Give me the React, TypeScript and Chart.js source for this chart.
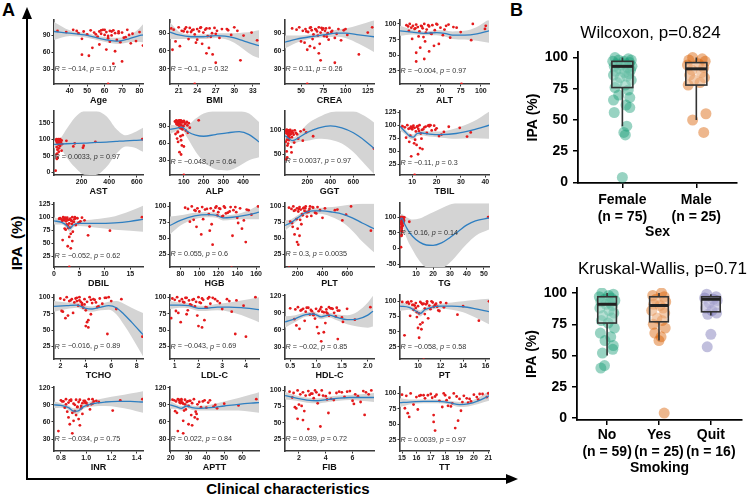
import React, { useEffect, useRef } from 'react';
import { Chart, registerables } from 'chart.js';

Chart.register(...registerables);

const FONT = 'Arial, "Liberation Sans", Helvetica, sans-serif';
Chart.defaults.font.family = FONT;

// ---------- Panel A data (IPA vs clinical characteristics) ----------
const ipa = [98, 96, 100, 94, 97, 92, 99, 95, 88, 97, 93, 100, 91, 96, 85, 98, 90, 99, 94, 82, 97, 78, 95, 87, 100, 76, 93, 80, 96, 72, 98, 84, 68, 92, 99, 65, 89, 97, 62, 94, 56, 86, 100, 54, 79, 44, 91, 40, 74, 4];

const age = [33, 38, 42, 45, 48, 50, 52, 54, 56, 57, 58, 59, 60, 61, 62, 63, 64, 65, 66, 67, 68, 69, 70, 72, 73, 75, 76, 78, 80, 82, 44, 47, 53, 55, 58, 61, 62, 64, 66, 68, 47, 71, 60, 51, 63, 70, 74, 65, 57, 62];
const bmi = [19.8, 20.2, 21.0, 21.5, 22.0, 22.4, 22.8, 23.2, 23.6, 24.0, 24.3, 24.6, 25.0, 25.3, 25.7, 26.0, 26.4, 26.8, 27.2, 27.6, 28.0, 33.7, 29.0, 29.5, 30.0, 20.5, 21.8, 22.6, 23.4, 24.8, 25.5, 26.2, 21.2, 23.0, 24.5, 25.9, 27.0, 28.8, 20.0, 30.5, 25.5, 31.5, 22.2, 26.5, 24.0, 31.0, 32.8, 27.0, 23.8, 23.6];
const crea = [40, 45, 48, 52, 55, 58, 60, 62, 64, 66, 68, 70, 72, 74, 76, 78, 80, 82, 85, 88, 92, 95, 98, 102, 130, 50, 56, 63, 67, 71, 75, 79, 60, 84, 73, 65, 90, 100, 57, 77, 70, 69, 61, 115, 81, 72, 125, 88, 54, 57];
const alt = [8, 10, 12, 14, 16, 18, 20, 22, 24, 26, 28, 30, 33, 36, 38, 40, 43, 46, 50, 53, 57, 62, 66, 75, 90, 15, 19, 23, 27, 31, 35, 39, 48, 105, 60, 42, 11, 106, 25, 70, 36, 32, 45, 20, 29, 30, 55, 20, 88, 76];
const ast = [15, 18, 20, 22, 25, 28, 30, 32, 35, 38, 40, 45, 50, 55, 60, 18, 22, 26, 30, 34, 38, 140, 90, 150, 640, 20, 24, 215, 32, 36, 40, 48, 25, 300, 20, 55, 30, 27, 35, 22, 23, 28, 33, 19, 44, 26, 31, 21, 210, 12];
const alp = [55, 60, 62, 65, 68, 70, 72, 75, 78, 80, 82, 85, 88, 90, 92, 95, 98, 100, 105, 110, 115, 120, 125, 130, 175, 58, 64, 70, 76, 83, 87, 93, 66, 74, 79, 86, 96, 102, 71, 108, 90, 84, 77, 100, 69, 78, 118, 86, 94, 100];
const ggt = [15, 18, 20, 22, 25, 28, 30, 33, 36, 40, 45, 50, 55, 60, 65, 70, 80, 90, 100, 120, 140, 160, 190, 250, 170, 12, 17, 23, 27, 32, 38, 44, 26, 48, 35, 58, 42, 29, 780, 75, 20, 31, 21, 62, 37, 24, 110, 16, 85, 14];
const tbil = [6, 7, 8, 9, 9.5, 10, 10.5, 11, 11.5, 12, 12.5, 13, 14, 15, 16, 17, 18, 19, 20, 22, 25, 32.5, 29.5, 23, 17, 7.5, 8.5, 9.2, 10.2, 11.2, 12.2, 13.5, 8.8, 14.5, 16.5, 10.8, 12.8, 15.5, 11.8, 9.8, 13.2, 34, 17.5, 14.2, 21, 12.4, 19.5, 9.6, 13.8, 11];
const dbil = [1.2, 1.5, 1.8, 2.0, 2.2, 2.4, 2.6, 2.8, 3.0, 3.2, 3.4, 3.6, 3.8, 4.0, 4.3, 4.6, 5.0, 5.5, 6.0, 7.0, 1.0, 2.1, 2.9, 3.5, 17.3, 2.3, 1.6, 3.1, 2.5, 3.7, 4.2, 2.7, 3.3, 5.2, 2.2, 6.7, 4.8, 1.9, 3.0, 3.4, 1.7, 2.5, 4.1, 3.6, 2.8, 2.7, 3.9, 3.3, 11.0, 3.0];
const hgb = [85, 88, 92, 95, 98, 100, 103, 106, 110, 112, 115, 118, 120, 122, 125, 127, 130, 133, 136, 140, 143, 147, 150, 155, 162, 90, 96, 104, 108, 113, 117, 124, 97, 132, 138, 145, 128, 121, 111, 152, 102, 119, 126, 135, 94, 149, 139, 114, 141, 134];
const plt = [130, 150, 165, 180, 195, 205, 215, 225, 235, 245, 255, 265, 280, 295, 310, 325, 340, 360, 380, 400, 420, 560, 520, 590, 630, 140, 170, 190, 210, 230, 250, 275, 160, 290, 320, 200, 350, 260, 790, 500, 175, 240, 300, 215, 220, 195, 270, 205, 155, 130];
const tg = [0.8, 0.9, 1.0, 1.1, 1.2, 1.3, 1.4, 1.5, 1.6, 1.7, 1.8, 1.9, 2.0, 2.2, 6.0, 2.6, 2.8, 3.0, 1.05, 1.15, 1.25, 1.35, 1.45, 1.55, 52.5, 1.65, 1.75, 1.85, 0.95, 2.1, 2.3, 2.5, 1.3, 1.4, 1.2, 1.6, 1.1, 1.9, 1.5, 1.0, 1.3, 2.7, 1.45, 1.8, 1.2, 1.55, 0.9, 1.35, 1.7, 1.1];
const tcho = [2.0, 2.3, 2.5, 2.7, 2.9, 3.1, 3.3, 3.5, 3.7, 3.9, 4.1, 4.3, 4.5, 4.7, 4.9, 5.1, 5.3, 5.6, 6.0, 6.4, 6.8, 2.2, 2.8, 3.4, 5.8, 3.0, 3.6, 4.0, 4.4, 2.6, 3.2, 3.8, 2.4, 4.8, 5.5, 4.2, 3.9, 4.6, 4.1, 3.3, 4.0, 5.0, 3.5, 4.2, 2.1, 5.7, 3.7, 8.45, 4.4, 4.3];
const ldl = [0.9, 1.0, 1.1, 1.2, 1.3, 1.4, 1.5, 1.6, 1.7, 1.8, 1.9, 2.0, 2.1, 2.2, 2.3, 2.4, 2.5, 2.6, 2.8, 3.0, 3.2, 3.4, 3.6, 3.9, 4.4, 1.15, 1.35, 1.55, 1.75, 1.95, 2.15, 2.35, 0.85, 2.05, 1.45, 2.25, 1.65, 2.7, 1.25, 3.3, 2.0, 1.85, 2.45, 2.15, 1.05, 3.55, 2.9, 4.0, 1.5, 2.6];
const hdl = [0.5, 0.6, 0.65, 0.7, 0.75, 0.8, 0.85, 0.9, 0.95, 1.0, 1.05, 1.1, 1.15, 1.2, 1.25, 1.3, 1.35, 1.4, 1.45, 1.5, 1.6, 1.75, 0.72, 0.88, 2.05, 0.78, 0.92, 0.98, 1.08, 1.18, 1.28, 1.38, 0.62, 1.12, 0.82, 1.02, 1.22, 1.32, 0.68, 1.42, 1.15, 0.95, 1.25, 1.05, 0.58, 1.42, 1.2, 1.1, 1.52, 1.0];
const pt = [9.0, 9.2, 9.4, 9.6, 9.8, 10.0, 10.2, 10.4, 10.6, 10.8, 11.0, 11.2, 11.4, 11.6, 11.8, 12.0, 12.3, 9.1, 9.5, 9.9, 10.3, 13.5, 10.7, 11.1, 16.3, 9.3, 9.7, 10.1, 10.5, 10.9, 11.3, 11.9, 15.4, 14.0, 8.6, 10.4, 9.8, 12.5, 10.2, 11.5, 10.0, 9.6, 10.8, 10.3, 10.6, 8.8, 11.7, 10.1, 9.9, 10.5];
const inr = [0.80, 0.82, 0.84, 0.86, 0.88, 0.90, 0.92, 0.94, 0.96, 0.98, 1.00, 1.02, 1.04, 1.06, 0.83, 0.87, 0.91, 0.95, 0.99, 1.03, 1.08, 0.85, 1.10, 0.93, 1.445, 0.89, 0.97, 1.21, 0.81, 0.92, 1.27, 0.96, 0.86, 1.05, 0.88, 0.94, 1.01, 0.99, 0.90, 1.00, 0.87, 0.93, 1.05, 0.95, 0.91, 0.78, 0.84, 0.89, 0.97, 0.92];
const aptt = [22, 23, 24, 25, 26, 27, 28, 29, 30, 31, 32, 33, 35, 38, 40, 42, 45, 24.5, 26.5, 28.5, 30.5, 34, 36, 44, 68, 23.5, 25.5, 27.5, 29.5, 31.5, 39, 46, 33.5, 50, 21, 35, 58, 25, 27, 41, 30, 37, 26, 32, 22.5, 24, 28, 27, 34.5, 29];
const fib = [1.3, 1.6, 1.9, 2.1, 2.3, 2.5, 2.7, 2.9, 3.1, 3.3, 3.5, 3.7, 4.0, 4.3, 4.6, 5.0, 5.4, 5.8, 6.2, 6.6, 7.0, 2.0, 3.0, 4.4, 7.4, 2.2, 2.8, 3.4, 4.8, 1.8, 5.6, 6.0, 2.4, 3.8, 6.8, 4.2, 1.5, 5.2, 6.9, 7.2, 1.9, 4.1, 3.2, 2.3, 6.1, 3.6, 6.4, 2.7, 1.7, 2.9];
const tt = [15.0, 15.3, 15.6, 16.0, 16.3, 16.6, 17.0, 17.3, 17.6, 18.0, 18.3, 18.6, 19.0, 19.3, 19.6, 20.0, 20.3, 20.6, 20.9, 15.8, 16.8, 17.8, 18.8, 19.8, 21.0, 15.2, 17.1, 18.2, 16.2, 19.1, 17.4, 18.5, 15.4, 19.5, 20.4, 17.2, 18.1, 16.5, 15.5, 20.2, 18.9, 19.2, 17.9, 17.2, 18.4, 18.7, 19.7, 17.3, 16.1, 19.3];

// LOESS fits: [x, fit, lower CI, upper CI]
const ageFit = [[31, 97, 82, 114], [40, 94, 89, 99], [50, 90, 86, 94], [58, 84, 80, 88], [64, 81, 76, 86], [68, 80, 75, 86], [74, 84, 78, 90], [79, 89, 79, 100], [82, 91, 78, 110]];
const bmiFit = [[19.6, 92, 80, 108], [21, 87, 80, 93], [23, 84, 80, 88], [25, 84, 80, 88], [27, 86, 82, 90], [28.5, 85, 80, 90], [30, 82, 74, 90], [31.5, 77, 63, 91], [33, 72, 52, 93], [34, 69, 48, 95]];
const creaFit = [[32, 75, 64, 86], [45, 80, 74, 86], [60, 84, 80, 88], [75, 87, 83, 91], [90, 90, 84, 96], [100, 90, 82, 98], [115, 87, 72, 104], [132, 84, 58, 112]];
const altFit = [[0, 89, 81, 97], [15, 87, 83, 91], [30, 85, 82, 88], [45, 86, 82, 90], [55, 85, 80, 90], [65, 82, 76, 88], [80, 82, 75, 89], [95, 84, 73, 95], [110, 89, 70, 108]];
const astFit = [[0, 84, 72, 96], [40, 85, 72, 100], [90, 86, 45, 130], [150, 87, 15, 165], [220, 88, -8, 186], [300, 90, -9, 186], [380, 91, 15, 170], [450, 93, 55, 132], [520, 95, 78, 112], [580, 96, 75, 120], [645, 98, 62, 135]];
const alpFit = [[30, 84, 76, 92], [60, 86, 81, 91], [90, 88, 83, 93], [120, 80, 68, 92], [160, 74, 45, 103], [200, 72, 28, 112], [260, 75, 14, 116], [320, 78, 12, 116], [380, 80, 20, 116], [430, 75, 30, 112], [480, 62, 35, 97]];
const ggtFit = [[5, 88, 78, 98], [30, 84, 78, 90], [70, 78, 72, 84], [130, 85, 76, 94], [200, 95, 78, 112], [300, 104, 82, 126], [400, 108, 80, 136], [500, 104, 72, 138], [600, 94, 55, 138], [700, 78, 30, 128], [780, 62, 10, 115]];
const tbilFit = [[5, 98, 90, 106], [7, 88, 83, 93], [9, 79, 74, 84], [10.5, 77, 72, 82], [12, 84, 79, 89], [14, 85, 80, 90], [17, 83, 78, 88], [22, 82, 76, 88], [28, 84, 74, 94], [35, 91, 75, 107], [41.5, 100, 74, 126]];
const dbilFit = [[0, 93, 86, 100], [1.5, 90, 86, 94], [2.5, 84, 79, 89], [3.1, 78, 72, 85], [3.8, 85, 80, 90], [5, 88, 83, 93], [8, 88, 80, 96], [12, 89, 76, 102], [15, 92, 74, 112], [17.5, 96, 72, 122]];
const hgbFit = [[69, 70, 56, 84], [80, 78, 70, 86], [95, 85, 80, 90], [110, 87, 83, 91], [118, 86, 82, 90], [125, 82, 78, 86], [135, 83, 79, 87], [145, 85, 80, 90], [155, 88, 80, 96], [163, 91, 80, 102]];
const pltFit = [[98, 70, 62, 78], [150, 75, 70, 80], [200, 82, 78, 86], [260, 90, 86, 94], [320, 93, 89, 97], [400, 93, 88, 98], [480, 91, 83, 99], [560, 88, 75, 101], [640, 82, 62, 103], [720, 74, 45, 104], [815, 65, 28, 104]];
const tgFit = [[0.5, 90, 70, 110], [1.5, 97, 85, 110], [3, 80, 55, 105], [5, 60, 25, 98], [8, 38, -5, 92], [12, 20, -40, 95], [16, 11, -60, 105], [20, 10, -62, 115], [25, 18, -62, 128], [30, 35, -45, 140], [35, 55, -15, 146], [40, 75, 15, 146], [45, 88, 40, 146], [53, 97, 60, 146]];
const tchoFit = [[1.5, 86, 78, 94], [2.5, 87, 82, 92], [3.3, 88, 84, 92], [4, 83, 79, 87], [4.5, 82, 78, 86], [5.2, 85, 80, 90], [5.8, 87, 81, 93], [6.4, 84, 74, 94], [7, 74, 58, 90], [7.6, 62, 40, 84], [8.5, 43, 10, 76]];
const ldlFit = [[0.8, 88, 82, 94], [1.2, 88, 84, 92], [1.6, 87, 83, 91], [2.0, 83, 79, 87], [2.3, 83, 79, 87], [2.8, 85, 80, 90], [3.3, 85, 78, 92], [3.8, 84, 73, 95], [4.55, 81, 62, 100]];
const hdlFit = [[0.4, 74, 64, 84], [0.6, 80, 74, 86], [0.8, 87, 83, 91], [0.95, 88, 84, 92], [1.1, 83, 79, 87], [1.25, 86, 82, 90], [1.4, 82, 77, 87], [1.6, 78, 70, 86], [1.8, 79, 66, 92], [2.0, 86, 64, 108], [2.1, 93, 66, 120]];
const ptFit = [[8.4, 92, 84, 100], [9.2, 90, 86, 94], [9.8, 84, 80, 88], [10.2, 80, 75, 85], [10.6, 86, 82, 90], [11.2, 90, 86, 94], [12, 92, 88, 96], [13, 92, 86, 98], [14, 91, 82, 100], [15, 88, 74, 102], [16.3, 83, 62, 104]];
const inrFit = [[0.745, 90, 84, 96], [0.8, 89, 85, 93], [0.86, 85, 81, 89], [0.9, 79, 74, 84], [0.93, 79, 74, 84], [0.98, 87, 83, 91], [1.05, 92, 87, 97], [1.15, 95, 88, 102], [1.25, 96, 86, 106], [1.35, 96, 82, 110], [1.45, 95, 76, 114]];
const apttFit = [[19.6, 90, 83, 97], [23, 87, 83, 91], [26, 84, 80, 88], [29, 88, 84, 92], [32, 85, 81, 89], [36, 84, 80, 88], [42, 85, 80, 90], [50, 88, 80, 96], [58, 91, 80, 102], [65, 93, 78, 108], [69.5, 94, 76, 112]];
const fibFit = [[0.96, 92, 86, 98], [1.8, 88, 84, 92], [2.6, 85, 81, 89], [3.4, 84, 80, 88], [4.2, 86, 82, 90], [5, 88, 84, 92], [5.8, 89, 85, 93], [6.6, 89, 84, 94], [7.6, 89, 82, 96]];
const ttFit = [[14.86, 85, 78, 92], [15.5, 86, 82, 90], [16.5, 87, 84, 90], [17.5, 87, 84, 90], [18.3, 85, 82, 88], [19, 82, 78, 86], [19.6, 83, 79, 87], [20.3, 88, 83, 93], [21.05, 96, 88, 104]];

const variableNames = ['Age', 'BMI', 'CREA', 'ALT', 'AST', 'ALP', 'GGT', 'TBIL', 'DBIL', 'HGB', 'PLT', 'TG', 'TCHO', 'LDL-C', 'HDL-C', 'PT', 'INR', 'APTT', 'FIB', 'TT'];
const xValues = [age, bmi, crea, alt, ast, alp, ggt, tbil, dbil, hgb, plt, tg, tcho, ldl, hdl, pt, inr, aptt, fib, tt];
const fits = [ageFit, bmiFit, creaFit, altFit, astFit, alpFit, ggtFit, tbilFit, dbilFit, hgbFit, pltFit, tgFit, tchoFit, ldlFit, hdlFit, ptFit, inrFit, apttFit, fibFit, ttFit];
const corrR = ['\u22120.14', '\u22120.1', '0.11', '\u22120.004', '0.0033', '\u22120.048', '0.0037', '\u22120.11', '\u22120.052', '0.055', '0.3', '0.16', '\u22120.016', '\u22120.043', '\u22120.02', '\u22120.058', '\u22120.034', '0.022', '0.039', '0.0039'];
const corrP = ['0.17', '0.32', '0.26', '0.97', '0.97', '0.64', '0.97', '0.3', '0.62', '0.6', '0.0035', '0.14', '0.89', '0.69', '0.85', '0.58', '0.75', '0.84', '0.72', '0.97'];
const corrLabelY = [30, 30, 30, 25, 47, 27, 36, 27, 25, 25, 25, 50, 25, 25, 30, 25, 30, 30, 25, 25];
const xRanges = [[31, 82], [19.6, 34], [32, 132], [0, 110], [0, 645], [30, 480], [5, 780], [5, 41.5], [0, 17.5], [69, 163], [98, 815], [0.5, 53], [1.5, 8.5], [0.8, 4.55], [0.4, 2.12], [8.4, 16.3], [0.745, 1.45], [19.6, 69.5], [0.96, 7.6], [14.86, 21.05]];
const xTickValues = [[40, 50, 60, 70, 80], [21, 24, 27, 30, 33], [50, 75, 100, 125], [25, 50, 75, 100], [200, 400, 600], [100, 200, 300, 400], [200, 400, 600], [10, 20, 30, 40], [0, 5, 10, 15], [80, 100, 120, 140, 160], [200, 400, 600], [10, 20, 30, 40, 50], [2, 4, 6, 8], [1, 2, 3, 4], [0.5, 1.0, 1.5, 2.0], [10, 12, 14, 16], [0.8, 1.0, 1.2, 1.4], [20, 30, 40, 50, 60], [2, 4, 6], [15, 16, 17, 18, 19, 20, 21]];
const xTickDecimals = [0, 0, 0, 0, 0, 0, 0, 0, 0, 0, 0, 0, 0, 0, 1, 0, 1, 0, 0, 0];
const yRanges = [[4, 117], [4, 112], [4, 112], [4, 106], [-9, 185], [4, 116], [8, 138], [4, 127], [4, 127], [5, 105], [5, 105], [-59, 144], [6, 103], [6, 103], [9, 121], [5, 110], [9, 121], [9, 121], [6, 105], [7, 110]];
const yTickValues = [[30, 60, 90], [30, 60, 90], [30, 60, 90], [25, 50, 75, 100], [0, 50, 100, 150], [30, 60, 90], [50, 100], [25, 50, 75, 100, 125], [25, 50, 75, 100, 125], [25, 50, 75, 100], [25, 50, 75, 100], [-50, 0, 50, 100], [25, 50, 75, 100], [25, 50, 75, 100], [30, 60, 90, 120], [25, 50, 75, 100], [30, 60, 90, 120], [30, 60, 90, 120], [25, 50, 75, 100], [25, 50, 75, 100]];

// ---------- Panel B data (box plots) ----------
const sexCategories = [['Female', '(n = 75)'], ['Male', '(n = 25)']];
const femaleIPA = [100, 99, 98, 98, 97, 97, 96, 95, 95, 94, 93, 93, 92, 91, 90, 89, 88, 87, 86, 85, 84, 82, 80, 78, 76, 74, 70, 68, 66, 62, 60, 56, 45, 40, 38, 4];
const femaleJitter = [-0.1, 0.08, -0.05, 0.12, 0.02, -0.13, 0.1, -0.08, 0.05, -0.02, 0.13, -0.11, 0.07, -0.04, 0.11, -0.09, 0.03, 0.09, -0.12, 0.06, -0.03, 0.12, -0.07, 0.04, -0.1, 0.08, -0.05, 0.1, -0.12, 0.05, 0.1, -0.11, 0.06, 0.02, 0.04, 0.0];
const maleIPA = [100, 99, 98, 97, 95, 94, 92, 90, 88, 86, 84, 82, 80, 78, 55, 50, 40];
const maleJitter = [-0.05, 0.08, -0.1, 0.12, 0.03, -0.12, 0.1, -0.06, 0.07, -0.09, 0.11, -0.03, 0.05, -0.11, 0.13, -0.05, 0.1];
const sexBoxStats = [[45, 76, 93, 97, 100], [50, 78, 91, 96, 100]]; // [lower whisker, Q1, median, Q3, upper whisker]

const smokeCategories = [['No', '(n = 59)'], ['Yes', '(n = 25)'], ['Quit', '(n = 16)']];
const noIPA = [100, 99, 98, 97, 96, 95, 94, 93, 92, 91, 90, 88, 86, 84, 82, 80, 78, 76, 72, 68, 65, 62, 58, 55, 52, 42, 40];
const noJitter = [-0.1, 0.12, 0.03, -0.15, 0.08, -0.05, 0.15, -0.12, 0.06, -0.02, 0.1, -0.14, 0.04, 0.13, -0.08, 0.09, -0.11, 0.02, 0.14, -0.13, 0.07, -0.04, 0.12, 0.11, -0.09, -0.05, -0.12];
const yesIPA = [100, 98, 97, 95, 93, 91, 90, 88, 86, 84, 80, 78, 75, 72, 68, 65, 62, 4];
const yesJitter = [0.05, -0.12, 0.1, -0.06, 0.13, -0.1, 0.02, 0.08, -0.14, 0.11, -0.04, 0.06, -0.11, 0.12, -0.08, 0.04, 0.0, 0.1];
const quitIPA = [99, 97, 96, 95, 94, 92, 90, 88, 86, 84, 83, 67, 57];
const quitJitter = [-0.08, 0.1, -0.12, 0.05, 0.12, -0.03, 0.08, -0.1, 0.02, 0.11, -0.06, 0.0, -0.07];
const smokeBoxStats = [[50, 76, 91, 97, 100], [62, 77, 90, 97, 100], [82, 85, 95, 97, 99]];

// ---------- layout ----------
const colLeft = [54, 170, 285, 400];
const rowTop = [20, 111, 203, 295, 387];
const PW = 89, PH = 64, YAX = 26, XAX = 22, PADT = 5, PADR = 6;

const corrPlugin = {
  id: 'corrLabel',
  afterDatasetsDraw(chart: any, _args: any, opts: any) {
    const { ctx, chartArea, scales } = chart;
    const y = scales.y.getPixelForValue(opts.y);
    let x = chartArea.left + 0.5;
    const parts: [string, boolean][] = [['R', true], [' = ' + opts.r + ', ', false], ['p', true], [' = ' + opts.p, false]];
    ctx.save();
    ctx.fillStyle = '#333';
    ctx.textBaseline = 'middle';
    ctx.textAlign = 'left';
    for (const [t, it] of parts) {
      ctx.font = (it ? 'italic ' : '') + '7.2px ' + FONT;
      ctx.fillText(t, x, y);
      x += ctx.measureText(t).width;
    }
    ctx.restore();
  },
};

function smallAxis(range: number[], ticks: number[], dec: number, title: string | null, horizontal: boolean) {
  return {
    type: 'linear',
    min: range[0],
    max: range[1],
    afterBuildTicks: (s: any) => { s.ticks = ticks.map((v) => ({ value: v })); },
    afterFit: (s: any) => { if (horizontal) s.height = XAX; else s.width = YAX; },
    ticks: {
      font: { size: 7, weight: 'bold', family: FONT },
      color: '#1a1a1a',
      padding: horizontal ? 0.5 : 1,
      maxRotation: 0,
      autoSkip: false,
      callback: (v: any) => Number(v).toFixed(dec),
    },
    grid: { display: true, drawOnChartArea: false, drawTicks: true, tickLength: 2.5, color: '#333', lineWidth: 1 },
    border: { display: true, color: '#3a3a3a', width: 1.6 },
    title: title ? { display: true, text: title, font: { size: 9, weight: 'bold', family: FONT }, color: '#111', padding: 0 } : { display: false },
  };
}

function makePanel(i: number) {
  const xs = xValues[i];
  const fit = fits[i];
  const pts = xs.map((v, k) => ({ x: v, y: ipa[k] }));
  return {
    type: 'scatter',
    data: {
      datasets: [
        { type: 'line', data: fit.map((f) => ({ x: f[0], y: f[3] })), borderWidth: 0, pointRadius: 0, fill: '+1', backgroundColor: '#D4D4D4', cubicInterpolationMode: 'monotone', order: 4 },
        { type: 'line', data: fit.map((f) => ({ x: f[0], y: f[2] })), borderWidth: 0, pointRadius: 0, fill: false, cubicInterpolationMode: 'monotone', order: 3 },
        { type: 'scatter', data: pts, pointRadius: 1.4, pointBackgroundColor: '#E41A1C', pointBorderWidth: 0, borderWidth: 0, order: 2 },
        { type: 'line', data: fit.map((f) => ({ x: f[0], y: f[1] })), borderColor: '#2F7FC1', borderWidth: 1.3, pointRadius: 0, fill: false, cubicInterpolationMode: 'monotone', order: 1 },
      ],
    },
    options: {
      responsive: false,
      animation: false,
      events: [],
      layout: { padding: { top: PADT, right: PADR, left: 0, bottom: 0 } },
      plugins: { legend: { display: false }, tooltip: { enabled: false }, corrLabel: { y: corrLabelY[i], r: corrR[i], p: corrP[i] } },
      scales: {
        x: smallAxis(xRanges[i], xTickValues[i], xTickDecimals[i], variableNames[i], true),
        y: smallAxis(yRanges[i], yTickValues[i], 0, null, false),
      },
    },
    plugins: [corrPlugin],
  };
}

const boxPlugin = {
  id: 'boxes',
  afterDatasetsDraw(chart: any, _args: any, opts: any) {
    const { ctx, scales, chartArea } = chart;
    const xs = scales.x, ys = scales.y;
    ctx.save();
    opts.stats.forEach((s: number[], i: number) => {
      const cx = xs.getPixelForValue(i);
      const hw = xs.getPixelForValue(i + opts.half) - cx;
      const [lo, q1, med, q3, hi] = s.map((v) => ys.getPixelForValue(v));
      ctx.strokeStyle = '#333';
      ctx.lineWidth = 1.6;
      ctx.beginPath();
      ctx.moveTo(cx, lo); ctx.lineTo(cx, q1);
      ctx.moveTo(cx, q3); ctx.lineTo(cx, hi);
      ctx.stroke();
      ctx.fillStyle = 'rgba(255,255,255,0.3)';
      ctx.fillRect(cx - hw, q3, 2 * hw, q1 - q3);
      ctx.strokeRect(cx - hw, q3, 2 * hw, q1 - q3);
      ctx.lineWidth = 3;
      ctx.strokeStyle = '#222';
      ctx.beginPath();
      ctx.moveTo(cx - hw, med); ctx.lineTo(cx + hw, med);
      ctx.stroke();
    });
    ctx.fillStyle = '#000';
    ctx.font = '17px ' + FONT;
    ctx.textAlign = 'center';
    ctx.textBaseline = 'middle';
    ctx.fillText(opts.title, (chartArea.left + chartArea.right) / 2 + opts.titleDx, chartArea.top - 19);
    ctx.restore();
  },
};

function makeBox(groups: { v: number[]; j: number[]; c: string }[], cats: string[][], stats: number[][], opts: any) {
  return {
    type: 'scatter',
    data: {
      datasets: groups.map((g, gi) => ({
        data: g.v.map((v, k) => ({ x: gi + g.j[k], y: v })),
        pointRadius: 5.5,
        pointBackgroundColor: g.c,
        pointBorderWidth: 0,
        borderWidth: 0,
      })),
    },
    options: {
      responsive: false,
      animation: false,
      events: [],
      layout: { padding: { top: opts.padTop, right: opts.padRight, left: 0, bottom: 0 } },
      plugins: { legend: { display: false }, tooltip: { enabled: false }, boxes: { stats, half: opts.half, title: opts.title, titleDx: opts.titleDx } },
      scales: {
        x: {
          type: 'linear',
          min: opts.xMin,
          max: opts.xMax,
          afterBuildTicks: (s: any) => { s.ticks = cats.map((_, k) => ({ value: k })); },
          afterFit: (s: any) => { s.height = opts.xAxisH; },
          ticks: { font: { size: 14, weight: 'bold', family: FONT }, color: '#000', padding: opts.tickPad, maxRotation: 0, autoSkip: false, callback: (v: any) => cats[Math.round(Number(v))] },
          grid: { display: true, drawOnChartArea: false, drawTicks: true, tickLength: 5, color: '#000', lineWidth: 1.5 },
          border: { display: true, color: '#000', width: 1.8 },
          title: { display: true, text: opts.xTitle, font: { size: 14, weight: 'bold', family: FONT }, color: '#000', padding: 0 },
        },
        y: {
          type: 'linear',
          min: opts.yMin,
          max: opts.yMax,
          afterBuildTicks: (s: any) => { s.ticks = [0, 25, 50, 75, 100].map((v) => ({ value: v })); },
          afterFit: (s: any) => { s.width = 53; },
          ticks: { font: { size: 14, weight: 'bold', family: FONT }, color: '#000', padding: 5 },
          grid: { display: true, drawOnChartArea: false, drawTicks: true, tickLength: 5, color: '#000', lineWidth: 1.5 },
          border: { display: true, color: '#000', width: 1.8 },
          title: { display: true, text: 'IPA (%)', font: { size: 14, weight: 'bold', family: FONT }, color: '#000', padding: 0 },
        },
      },
    },
    plugins: [boxPlugin],
  };
}

function ChartCanvas({ left, top, width, height, build }: { left: number; top: number; width: number; height: number; build: () => any }) {
  const ref = useRef<HTMLCanvasElement | null>(null);
  useEffect(() => {
    if (!ref.current) return;
    const c = new Chart(ref.current, build());
    return () => c.destroy();
  }, []);
  return <canvas ref={ref} width={width} height={height} style={{ position: 'absolute', left, top, width, height }} />;
}

export default function App() {
  const panels = variableNames.map((_, i) => {
    const col = i % 4, row = Math.floor(i / 4);
    return (
      <ChartCanvas
        key={i}
        left={colLeft[col] - YAX}
        top={rowTop[row] - PADT}
        width={YAX + PW + PADR}
        height={PADT + PH + XAX}
        build={() => makePanel(i)}
      />
    );
  });
  const teal = 'rgba(27,158,119,0.45)', orange = 'rgba(217,95,2,0.45)', purple = 'rgba(117,112,179,0.45)';
  return (
    <div style={{ position: 'absolute', left: 0, top: 0, width: 753, height: 496, background: '#fff', overflow: 'hidden' }}>
      <svg width={753} height={496} style={{ position: 'absolute', left: 0, top: 0 }}>
        <line x1={27} y1={480} x2={27} y2={17} stroke="#000" strokeWidth={2} />
        <polygon points="27,7 22,19 32,19" fill="#000" />
        <line x1={26} y1={479} x2={508} y2={479} stroke="#000" strokeWidth={2} />
        <polygon points="518,479 506,474 506,484" fill="#000" />
        <text x={2} y={16} fontFamily={FONT} fontWeight="bold" fontSize={18}>A</text>
        <text x={510} y={16} fontFamily={FONT} fontWeight="bold" fontSize={18}>B</text>
        <text x={0} y={0} transform="translate(22,243) rotate(-90)" textAnchor="middle" fontFamily={FONT} fontWeight="bold" fontSize={15}>IPA{'\u2002'}(%)</text>
        <text x={288} y={494} textAnchor="middle" fontFamily={FONT} fontWeight="bold" fontSize={15}>Clinical characteristics</text>
      </svg>
      {panels}
      <ChartCanvas
        left={525}
        top={15}
        width={228}
        height={226}
        build={() =>
          makeBox(
            [{ v: femaleIPA, j: femaleJitter, c: teal }, { v: maleIPA, j: maleJitter, c: orange }],
            sexCategories,
            sexBoxStats,
            { padTop: 37, padRight: 16, half: 0.142, title: 'Wilcoxon, p=0.824', titleDx: -7, xMin: -0.6, xMax: 1.55, yMin: -0.5, yMax: 104.5, xAxisH: 58, tickPad: 3.5, xTitle: 'Sex' }
          )
        }
      />
      <ChartCanvas
        left={524}
        top={250}
        width={229}
        height={227}
        build={() =>
          makeBox(
            [{ v: noIPA, j: noJitter, c: teal }, { v: yesIPA, j: yesJitter, c: orange }, { v: quitIPA, j: quitJitter, c: purple }],
            smokeCategories,
            smokeBoxStats,
            { padTop: 38, padRight: 11, half: 0.18, title: 'Kruskal-Wallis, p=0.71', titleDx: 3, xMin: -0.58, xMax: 2.6, yMin: -1.5, yMax: 104, xAxisH: 57, tickPad: 2, xTitle: 'Smoking' }
          )
        }
      />
    </div>
  );
}
